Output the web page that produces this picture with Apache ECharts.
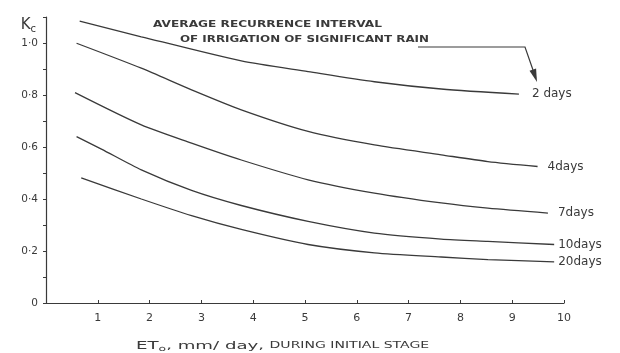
<!DOCTYPE html>
<html>
<head>
<meta charset="utf-8">
<script src="https://cdn.jsdelivr.net/npm/echarts@6/dist/echarts.min.js"></script>
<style>
  html, body { margin: 0; padding: 0; background: #fff; }
  #chart { width: 620px; height: 353px; }
</style>
</head>
<body>
<div id="chart"></div>
<script>
// curves: [ETo, Kc]
var seriesNames = ['2 days', '4days', '7days', '10days', '20days'];
var days2 = [[0.65, 1.084], [1.84, 1.024], [3.77, 0.931], [5.06, 0.89], [6.34, 0.851], [7.63, 0.823], [9.13, 0.803]];
var days4 = [[0.59, 0.999], [1.84, 0.903], [2.81, 0.82], [3.77, 0.743], [5.06, 0.66], [6.34, 0.608], [7.63, 0.57], [8.53, 0.544], [9.49, 0.525]];
var days7 = [[0.56, 0.809], [1.84, 0.685], [2.81, 0.615], [3.77, 0.55], [5.06, 0.474], [6.34, 0.423], [7.63, 0.385], [8.53, 0.365], [9.69, 0.346]];
var days10 = [[0.59, 0.64], [1.07, 0.592], [1.84, 0.512], [2.81, 0.433], [3.77, 0.375], [5.06, 0.314], [6.34, 0.269], [7.63, 0.246], [8.53, 0.237], [9.81, 0.225]];
var days20 = [[0.68, 0.481], [1.84, 0.4], [2.81, 0.336], [3.77, 0.283], [5.06, 0.225], [6.34, 0.193], [7.63, 0.177], [8.53, 0.167], [9.81, 0.158]];
var xTicks = [1, 2, 3, 4, 5, 6, 7, 8, 9, 10];
var labelGaps = [13, 10, 10, 4, 4];

var ink = '#3a3a3a';
var chart = echarts.init(document.getElementById('chart'));

function curve(i, data) {
  return {
    name: seriesNames[i],
    type: 'line',
    data: data,
    smooth: 0.25,
    showSymbol: false,
    lineStyle: { color: ink, width: 1.3 },
    endLabel: {
      show: true,
      formatter: '{a}',
      distance: labelGaps[i],
      color: ink,
      fontFamily: 'DejaVu Sans',
      fontSize: 12
    }
  };
}

var option = {
  backgroundColor: '#fff',
  animation: false,
  grid: { left: 46, right: 56, top: 17, bottom: 50 },
  xAxis: {
    type: 'value',
    min: 0,
    max: 10,
    interval: 1,
    axisLine: { lineStyle: { color: ink, width: 1.2 } },
    axisTick: { inside: true, length: 3, lineStyle: { color: ink } },
    axisLabel: {
      color: ink,
      fontFamily: 'DejaVu Sans',
      fontSize: 11,
      margin: 10,
      formatter: function (v) { return xTicks.indexOf(v) >= 0 ? String(v) : ''; }
    },
    splitLine: { show: false }
  },
  yAxis: {
    type: 'value',
    min: 0,
    max: 1.1,
    interval: 0.2,
    name: '{k|K}{c|c}',
    nameLocation: 'end',
    nameGap: -17,
    nameTextStyle: {
      align: 'right',
      padding: [0, 10, 0, 0],
      rich: {
        k: { fontFamily: 'DejaVu Sans', fontSize: 15, color: ink },
        c: { fontFamily: 'DejaVu Sans', fontSize: 10, color: ink, verticalAlign: 'bottom', padding: [8, 0, 0, 0] }
      }
    },
    axisLine: { show: true, lineStyle: { color: ink, width: 1.2 } },
    axisTick: { show: true, length: 3, lineStyle: { color: ink } },
    minorTick: { show: true, splitNumber: 2, length: 3, lineStyle: { color: ink } },
    axisLabel: {
      color: ink,
      fontFamily: 'DejaVu Sans',
      fontSize: 10.5,
      margin: 8,
      formatter: function (v) {
        if (v > 1.05) return '';
        if (v === 0) return '0';
        return v.toFixed(1).replace('.', '·');
      }
    },
    splitLine: { show: false }
  },
  series: [
    curve(0, days2),
    curve(1, days4),
    curve(2, days7),
    curve(3, days10),
    curve(4, days20)
  ],
  graphic: [
    {
      type: 'text', left: 153, top: 20, scaleX: 1.35,
      style: { text: 'AVERAGE RECURRENCE INTERVAL', fill: ink, font: 'bold 9px "DejaVu Sans"' }
    },
    {
      type: 'text', left: 180, top: 35, scaleX: 1.32,
      style: { text: 'OF IRRIGATION OF SIGNIFICANT RAIN', fill: ink, font: 'bold 9px "DejaVu Sans"' }
    },
    {
      type: 'polyline',
      shape: { points: [[418, 47], [525, 47], [533, 70]] },
      style: { stroke: ink, lineWidth: 1.2, fill: null }
    },
    {
      type: 'polygon',
      shape: { points: [[529.5, 70.8], [536.1, 68.6], [537, 82]] },
      style: { fill: ink }
    },
    {
      // x axis title
      type: 'text', left: 136, top: 340, scaleX: 1.65,
      style: {
        text: '{a|ET}{s|o}{a|, mm/ day,} {b|DURING INITIAL STAGE}',
        rich: {
          a: { fontFamily: 'DejaVu Sans', fontSize: 11, fill: ink },
          s: { fontFamily: 'DejaVu Sans', fontSize: 7.5, fill: ink, padding: [6, 0, 0, 0] },
          b: { fontFamily: 'DejaVu Sans', fontSize: 8.5, fill: ink }
        }
      }
    }
  ]
};

chart.setOption(option);
</script>
</body>
</html>
